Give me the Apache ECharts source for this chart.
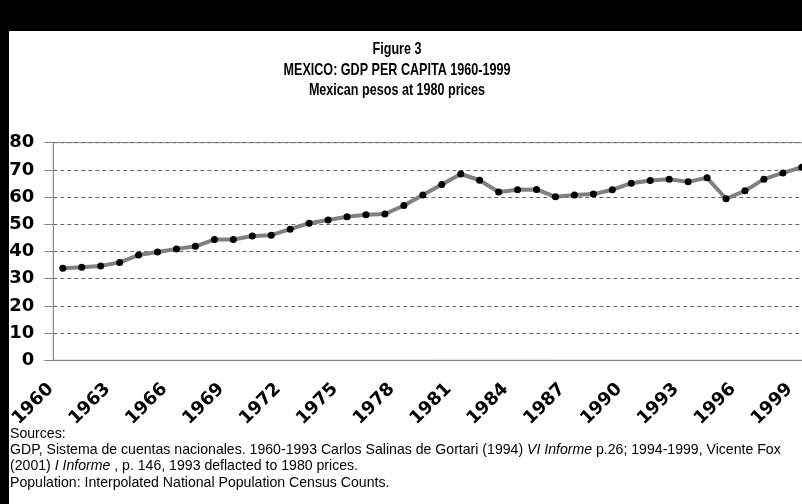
<!DOCTYPE html>
<html>
<head>
<meta charset="utf-8">
<script src="https://cdn.jsdelivr.net/npm/echarts@6/dist/echarts.min.js"></script>
<style>html,body{margin:0;padding:0;background:#fff}#c{width:802px;height:504px}</style>
</head>
<body>
<div id="c"></div>
<script>
const years = ['1960','1961','1962','1963','1964','1965','1966','1967','1968','1969',
  '1970','1971','1972','1973','1974','1975','1976','1977','1978','1979',
  '1980','1981','1982','1983','1984','1985','1986','1987','1988','1989',
  '1990','1991','1992','1993','1994','1995','1996','1997','1998','1999'];
const gdpPerCapita = [33.8,34.2,34.7,36.0,38.7,39.8,40.9,41.9,44.4,44.4,
  45.7,46.0,48.2,50.4,51.6,52.8,53.5,53.8,56.9,60.8,
  64.6,68.5,66.2,61.9,62.7,62.8,60.1,60.8,61.1,62.7,
  65.1,66.1,66.6,65.6,67.1,59.4,62.3,66.6,68.9,71.0];
const titleLines = ['Figure 3','MEXICO: GDP PER CAPITA 1960-1999','Mexican pesos at 1980 prices'];
const sourceLines = [
  'Sources:',
  'GDP, Sistema de cuentas nacionales. 1960-1993 Carlos Salinas de Gortari (1994) {i|VI Informe} p.26; 1994-1999, Vicente Fox',
  '(2001) {i|I Informe} , p. 146, 1993 deflacted to 1980 prices.',
  'Population: Interpolated National Population Census Counts.'
];

const sans = "'Liberation Sans', Arial, sans-serif";
const graphics = [
  {type: 'rect', left: 0, top: 0, shape: {width: 802, height: 31}, style: {fill: '#000'}, z: 100},
  {type: 'rect', left: 0, top: 0, shape: {width: 9, height: 504}, style: {fill: '#000'}, z: 100}
];
const titleY = [49.5, 70, 90.5];
titleLines.forEach((t, i) => graphics.push({
  type: 'text', x: 397, y: titleY[i], scaleX: 0.74, z: 50,
  style: {text: t, fontFamily: sans, fontWeight: 'bold', fontSize: 17, fill: '#000',
    align: 'center', verticalAlign: 'middle'}
}));
const srcY = [434, 450, 466.3, 482.6];
sourceLines.forEach((t, i) => graphics.push({
  type: 'text', x: 10, y: srcY[i], scaleX: 0.94, z: 50,
  style: {text: t, fontFamily: sans, fontSize: 15, fill: '#000', align: 'left', verticalAlign: 'middle',
    rich: {i: {fontFamily: sans, fontStyle: 'italic', fontSize: 15, fill: '#000'}}}
}));

const chart = echarts.init(document.getElementById('c'), null, {renderer:'canvas'});
chart.setOption({
  animation: false,
  backgroundColor: '#fff',
  grid: {left: 53.3, right: -9.3, top: 142.7, bottom: 143.7, outerBoundsMode: 'none', containLabel: false,
    show: true, borderColor: '#888', borderWidth: 1},
  xAxis: {
    type: 'category', data: years, boundaryGap: true,
    axisLine: {lineStyle: {color: '#888', width: 1}},
    axisTick: {interval: 0, length: 5, lineStyle: {color: '#666'}},
    axisLabel: {interval: 2, rotate: 45, margin: 14, padding: [0, 17, 0, 0],
      fontFamily: 'DejaVu Sans', fontWeight: 'bold', fontSize: 18, color: '#000'}
  },
  yAxis: {
    type: 'value', min: 0, max: 80, interval: 10,
    axisLine: {show: true, lineStyle: {color: '#888', width: 1}},
    axisTick: {show: true, inside: false, length: 9, lineStyle: {color: '#888'}},
    axisLabel: {margin: 19, fontFamily: 'DejaVu Sans', fontWeight: 'bold', fontSize: 18, color: '#000'},
    splitLine: {show: true, lineStyle: {type: [4, 3], color: '#666', width: 1}}
  },
  series: [{
    type: 'line', data: gdpPerCapita,
    lineStyle: {color: '#808080', width: 4},
    itemStyle: {color: '#000'},
    symbol: 'circle', symbolSize: 7, showSymbol: true
  }],
  graphic: graphics
});
</script>
</body>
</html>
